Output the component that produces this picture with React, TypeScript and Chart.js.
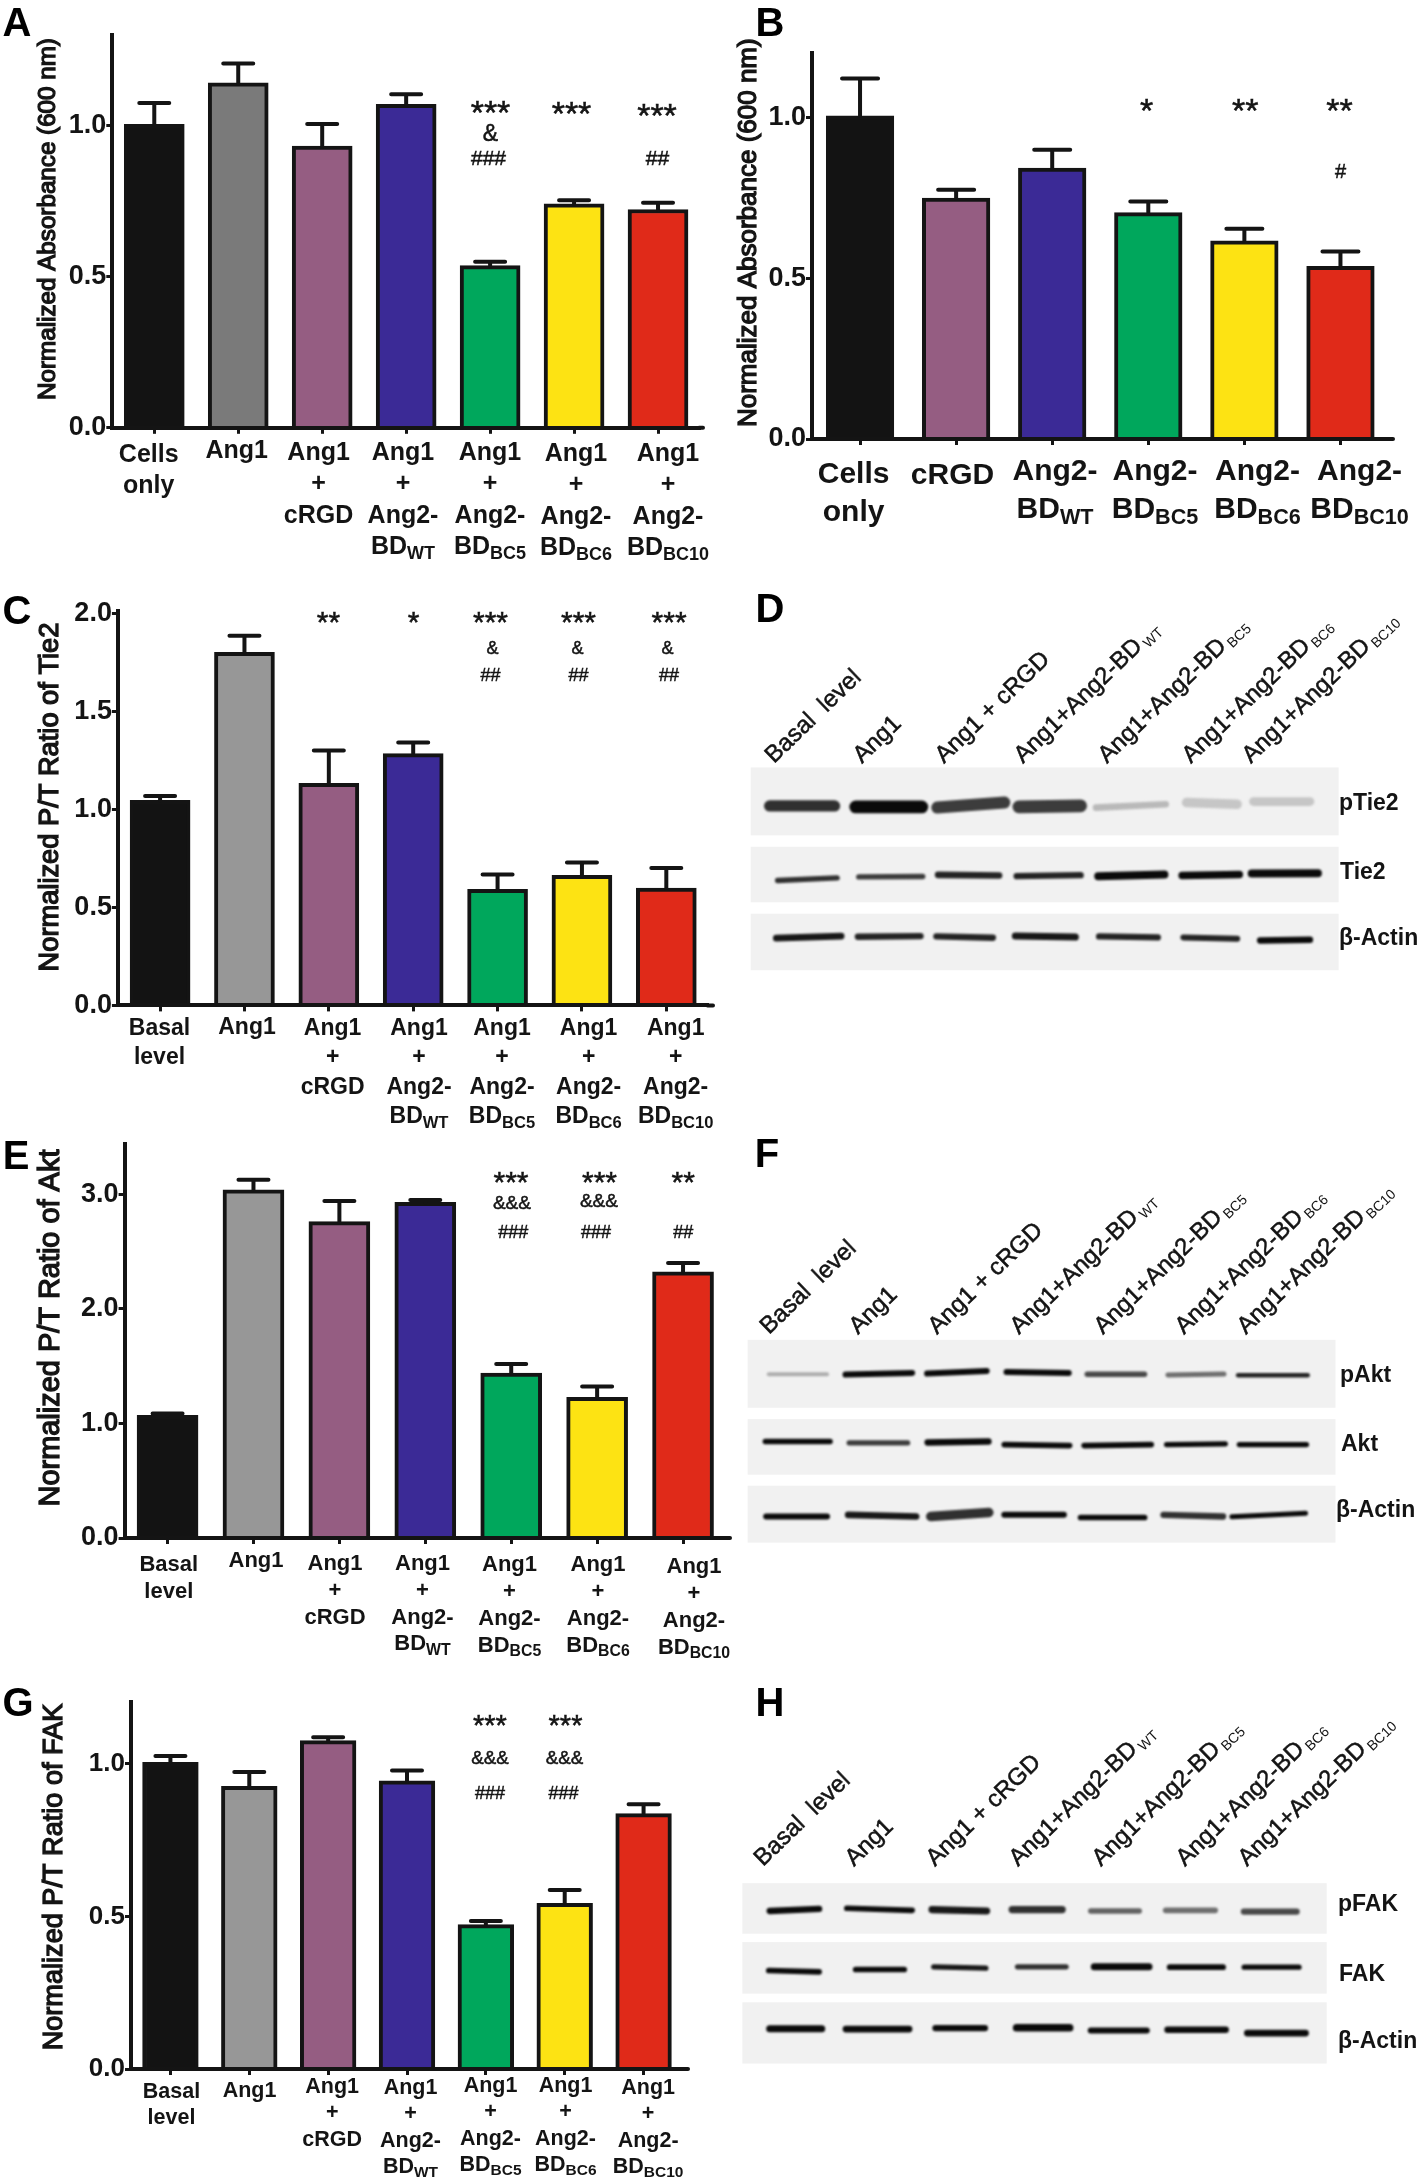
import React, { useEffect, useRef } from "react";
import { Chart, registerables } from "chart.js";

Chart.register(...registerables);

const FONT = '"Liberation Sans", Arial, sans-serif';
const INK = "#141414";

// ---------- bar panel data ----------
const basalCats = [["Basal", "level"], ["Ang1"], ["Ang1", "+", "cRGD"], ["Ang1", "+", "Ang2-", "BD_WT"], ["Ang1", "+", "Ang2-", "BD_BC5"], ["Ang1", "+", "Ang2-", "BD_BC6"], ["Ang1", "+", "Ang2-", "BD_BC10"]];
const categoriesA = [["Cells", "only"], ["Ang1"], ["Ang1", "+", "cRGD"], ["Ang1", "+", "Ang2-", "BD_WT"], ["Ang1", "+", "Ang2-", "BD_BC5"], ["Ang1", "+", "Ang2-", "BD_BC6"], ["Ang1", "+", "Ang2-", "BD_BC10"]];
const categoriesB = [["Cells", "only"], ["cRGD"], ["Ang2-", "BD_WT"], ["Ang2-", "BD_BC5"], ["Ang2-", "BD_BC6"], ["Ang2-", "BD_BC10"]];

const valuesA = [1.005, 1.143, 0.933, 1.071, 0.537, 0.742, 0.723];
const errorTopsA = [1.076, 1.207, 1.006, 1.105, 0.55, 0.754, 0.745];
const valuesB = [1.005, 0.749, 0.842, 0.704, 0.616, 0.537];
const errorTopsB = [1.121, 0.775, 0.899, 0.738, 0.654, 0.583];
const valuesC = [1.045, 1.8, 1.132, 1.284, 0.592, 0.663, 0.598];
const errorTopsC = [1.068, 1.885, 1.3, 1.34, 0.668, 0.729, 0.7];
const valuesE = [1.07, 3.04, 2.762, 2.93, 1.44, 1.228, 2.324];
const errorTopsE = [1.087, 3.127, 2.943, 2.95, 1.52, 1.323, 2.4];
const valuesG = [1.005, 0.926, 1.076, 0.944, 0.473, 0.543, 0.837];
const errorTopsG = [1.026, 0.973, 1.087, 0.978, 0.485, 0.587, 0.868];

const coloursA = ["#131313", "#7a7a7a", "#955d82", "#3b2a96", "#00a75c", "#fde313", "#e02a19"];
const coloursB = ["#131313", "#955d82", "#3b2a96", "#00a75c", "#fde313", "#e02a19"];
const coloursRest = ["#131313", "#979797", "#955d82", "#3b2a96", "#00a75c", "#fde313", "#e02a19"];

const marksA = ["***", "&", "###", "***", "***", "##"];
const marksB = ["*", "**", "**", "#"];
const marksC = ["**", "*", "***", "***", "***", "&", "&", "&", "##", "##", "##"];
const marksE = ["***", "***", "**", "&&&", "&&&", "###", "###", "##"];
const marksG = ["***", "***", "&&&", "&&&", "###", "###"];

const barPanels = [
  {
    letter: "A", letterAt: [17, 22], box: [0, 0, 730, 570], plot: [112.3, 34.7, 700, 427.8], axisEnd: 703, yMax: 1.302, step: 0.5,
    categories: categoriesA, values: valuesA, errorTops: errorTopsA, colours: coloursA,
    title: "Normalized Absorbance (600 nm)", titleAt: [48, 219], titleLen: 362,
    barW: 60, capW: 30, tickFont: 27, labelFont: 25, lineStep: 31.5, labelShift: [-2, -2.5],
    labelX: [150.7, 238.7, 320.6, 405, 492, 578, 670], labelY: [455, 451, 453, 453, 453, 454, 454],
    marks: marksA, markAt: [[492, 108], [492, 134], [490, 159], [573, 109], [658.5, 111], [659, 159]],
    markFont: { star: 34, amp: 23, hash: 21 },
  },
  {
    letter: "B", letterAt: [770, 22], box: [710, 0, 708, 570], plot: [812, 53, 1388.5, 439], axisEnd: 1393, yMax: 1.2, step: 0.5,
    categories: categoriesB, values: valuesB, errorTops: errorTopsB, colours: coloursB,
    title: "Normalized Absorbance (600 nm)", titleAt: [748.6, 232.7], titleLen: 389,
    barW: 67.6, capW: 36, tickFont: 27, labelFont: 30, lineStep: 37.6, labelShift: [-3, -3.5],
    labelX: [856.6, 955.5, 1058, 1158, 1260.5, 1362.6], labelY: [476, 477, 472.7, 472.7, 472.7, 472.7],
    marks: marksB, markAt: [[1148, 106], [1246.8, 106], [1341, 106], [1342, 172]],
    markFont: { star: 34, amp: 20, hash: 20 },
  },
  {
    letter: "C", letterAt: [17, 610], box: [0, 570, 730, 560], plot: [117.9, 611, 708.5, 1005.4], axisEnd: 713, yMax: 2.011, step: 0.5,
    categories: basalCats, values: valuesC, errorTops: errorTopsC, colours: coloursRest,
    title: "Normalized P/T Ratio of Tie2", titleAt: [50, 797], titleLen: 349,
    barW: 60, capW: 30, tickFont: 27, labelFont: 23, lineStep: 29.5, labelShift: [-2, -2.5],
    labelX: [161.5, 249, 334.6, 421, 504, 590.6, 677.7], labelY: [1029, 1028, 1029, 1029, 1029, 1029, 1029],
    marks: marksC,
    markAt: [[330, 619], [415, 619], [492, 619], [580, 619], [670.6, 619], [494, 649], [579, 649], [669, 649], [492, 676], [580, 676], [670.6, 676]],
    markFont: { star: 30, amp: 18, hash: 18 },
  },
  {
    letter: "E", letterAt: [16, 1155], box: [0, 1120, 740, 540], plot: [124.6, 1143.5, 726, 1538], axisEnd: 730, yMax: 3.444, step: 1,
    categories: basalCats, values: valuesE, errorTops: errorTopsE, colours: coloursRest,
    title: "Normalized P/T Ratio of Akt", titleAt: [51.5, 1328], titleLen: 357,
    barW: 61, capW: 30, tickFont: 27, labelFont: 22, lineStep: 26.8, labelShift: [-2, -2.5],
    labelX: [170.8, 258, 337, 424.5, 511.5, 600, 696], labelY: [1565.6, 1562, 1564.6, 1564.6, 1566, 1566, 1568],
    marks: marksE,
    markAt: [[512.5, 1179], [601, 1179], [684.7, 1179], [513.4, 1204], [600.4, 1202], [514.8, 1233], [597.6, 1233], [684.7, 1233]],
    markFont: { star: 30, amp: 19, hash: 18 },
  },
  {
    letter: "G", letterAt: [18, 1702], box: [0, 1660, 730, 519], plot: [131, 1701.6, 683, 2069], axisEnd: 688, yMax: 1.204, step: 0.5,
    categories: basalCats, values: valuesG, errorTops: errorTopsG, colours: coloursRest,
    title: "Normalized P/T Ratio of FAK", titleAt: [54.8, 1877], titleLen: 347,
    barW: 55.7, capW: 30, tickFont: 26, labelFont: 21.5, lineStep: 26.4, labelShift: [-1.5, 0],
    labelX: [173, 251, 333.7, 412, 492, 567, 649.6], labelY: [2090, 2089, 2085, 2086, 2084, 2084, 2086],
    marks: marksG,
    markAt: [[491.4, 1722], [567, 1722], [491.4, 1758.5], [566, 1758.5], [491.4, 1794], [565, 1794]],
    markFont: { star: 29, amp: 18.7, hash: 18 },
  },
];

// ---------- blot data: [start, end, startRow, endRow, thickness, density], in blot units ----------
const pTie2Bands = [[90, 237, 645, 645, 28, 0.85], [285, 435, 648, 648, 32, 1], [470, 622, 650, 635, 30, 0.8], [655, 795, 648, 645, 32, 0.8], [830, 988, 650, 640, 14, 0.3], [1035, 1150, 635, 640, 22, 0.25], [1187, 1315, 632, 632, 20, 0.25]];
const tie2Bands = [[108, 243, 868, 860, 10, 0.85], [292, 437, 857, 856, 10, 0.8], [472, 610, 851, 853, 14, 0.9], [650, 795, 855, 852, 13, 0.9], [835, 985, 855, 850, 18, 1], [1025, 1155, 853, 850, 16, 1], [1183, 1333, 847, 846, 18, 1]];
const actinDBands = [[105, 252, 1040, 1034, 14, 0.95], [290, 432, 1036, 1034, 13, 0.9], [468, 596, 1035, 1039, 13, 0.9], [647, 783, 1034, 1037, 15, 0.95], [837, 970, 1035, 1038, 13, 0.9], [1028, 1150, 1038, 1042, 12, 0.9], [1202, 1315, 1047, 1045, 13, 1]];
const pAktBands = [[88, 220, 730, 730, 6, 0.35], [262, 413, 731, 726, 12, 1], [447, 582, 728, 720, 12, 1], [627, 768, 723, 726, 12, 1], [810, 940, 730, 730, 10, 0.75], [993, 1120, 732, 729, 9, 0.6], [1152, 1310, 733, 733, 7, 0.9]];
const aktBands = [[80, 227, 931, 931, 10, 1], [270, 403, 935, 935, 9, 0.8], [448, 586, 934, 931, 13, 1], [622, 770, 940, 943, 11, 1], [803, 955, 943, 940, 11, 1], [990, 1123, 940, 938, 10, 1], [1155, 1307, 940, 940, 10, 1]];
const actinFBands = [[82, 220, 1155, 1155, 12, 1], [268, 422, 1150, 1155, 14, 0.95], [455, 587, 1155, 1143, 22, 0.85], [622, 757, 1150, 1150, 12, 1], [795, 940, 1158, 1158, 11, 1], [983, 1118, 1150, 1155, 13, 0.85], [1138, 1305, 1156, 1145, 9, 1]];
const pFakBands = [[90, 202, 720, 714, 13, 1], [265, 413, 712, 718, 11, 1], [458, 582, 716, 720, 15, 0.95], [640, 753, 716, 716, 16, 0.85], [818, 928, 720, 720, 10, 0.65], [988, 1100, 718, 718, 11, 0.6], [1165, 1285, 722, 722, 12, 0.75]];
const fakBands = [[88, 202, 898, 902, 11, 1], [285, 395, 895, 895, 11, 1], [462, 580, 887, 891, 10, 0.95], [652, 762, 887, 887, 10, 0.85], [826, 950, 887, 887, 15, 1], [997, 1118, 888, 888, 11, 1], [1166, 1290, 888, 888, 10, 1]];
const actinHBands = [[90, 208, 1072, 1072, 15, 1], [263, 406, 1073, 1073, 14, 1], [466, 578, 1070, 1070, 13, 1], [650, 770, 1069, 1069, 17, 1], [818, 945, 1077, 1077, 12, 1], [992, 1124, 1075, 1075, 13, 1], [1173, 1305, 1085, 1085, 14, 1]];

const laneLabels = ["Basal  level", "Ang1", "Ang1 + cRGD", "Ang1+Ang2-BD_WT", "Ang1+Ang2-BD_BC5", "Ang1+Ang2-BD_BC6", "Ang1+Ang2-BD_BC10"];

const blotPanels = [
  {
    letter: "D", letterAt: [770, 608], box: [730, 590, 688, 400], domain: [1560, 1195],
    stripX: [47, 1380], strips: [[530, 733], [767, 933], [967, 1136]],
    rows: [pTie2Bands, tie2Bands, actinDBands],
    rowNames: ["pTie2", "Tie2", "β-Actin"], rowNameAt: [[1339, 804], [1340, 873], [1339, 939]],
    laneX: [774, 862, 944, 1023, 1107, 1191, 1251], laneY: 764,
  },
  {
    letter: "F", letterAt: [767, 1153], box: [730, 1130, 688, 430], domain: [1560, 1285],
    stripX: [40, 1373], strips: [[627, 830], [864, 1030], [1063, 1233]],
    rows: [pAktBands, aktBands, actinFBands],
    rowNames: ["pAkt", "Akt", "β-Actin"], rowNameAt: [[1340, 1376], [1341, 1445], [1336, 1511]],
    laneX: [769, 858, 937, 1019, 1103, 1184, 1246], laneY: 1335,
  },
  {
    letter: "H", letterAt: [770, 1702], box: [730, 1670, 688, 420], domain: [1560, 1255],
    stripX: [28, 1353], strips: [[637, 788], [813, 967], [993, 1176]],
    rows: [pFakBands, fakBands, actinHBands],
    rowNames: ["pFAK", "FAK", "β-Actin"], rowNameAt: [[1338, 1905], [1339, 1975], [1338, 2042]],
    laneX: [763, 854, 935, 1018, 1101, 1185, 1247], laneY: 1867,
  },
];

// ---------- text helpers ----------
function drawSubLine(ctx: any, line: string, x: number, y: number, size: number) {
  const [main, sub] = line.split("_");
  ctx.font = `bold ${size}px ${FONT}`;
  const mw = ctx.measureText(main).width;
  let sw = 0;
  const subSize = size * 0.72;
  if (sub) {
    ctx.font = `bold ${subSize}px ${FONT}`;
    sw = ctx.measureText(sub).width;
  }
  const left = x - (mw + sw) / 2;
  ctx.textAlign = "left";
  ctx.textBaseline = "alphabetic";
  ctx.font = `bold ${size}px ${FONT}`;
  ctx.fillText(main, left, y);
  if (sub) {
    ctx.font = `bold ${subSize}px ${FONT}`;
    ctx.fillText(sub, left + mw, y + size * 0.2);
  }
}

function centredText(ctx: any, text: string, x: number, y: number, stroke = 0) {
  ctx.textAlign = "center";
  ctx.textBaseline = "alphabetic";
  const m = ctx.measureText(text);
  const by = y + (m.actualBoundingBoxAscent - m.actualBoundingBoxDescent) / 2;
  ctx.fillText(text, x, by);
  if (stroke) {
    ctx.lineWidth = stroke;
    ctx.strokeStyle = ctx.fillStyle;
    ctx.strokeText(text, x, by);
  }
}

function drawLetter(ctx: any, letter: string, at: number[]) {
  ctx.fillStyle = "#000";
  ctx.font = `bold 40px ${FONT}`;
  centredText(ctx, letter, at[0], at[1]);
}

// ---------- components ----------
function BarPanel({ p }: { p: any }) {
  const ref = useRef<HTMLCanvasElement>(null);
  useEffect(() => {
    const [bx, by, bw, bh] = p.box;
    const [left, top, right, bottom] = p.plot;
    const overlay = {
      id: "overlay",
      afterDatasetsDraw(chart: any) {
        const { ctx, chartArea } = chart;
        const meta = chart.getDatasetMeta(0);
        const y = chart.scales.y;
        ctx.save();
        ctx.strokeStyle = INK;
        ctx.lineWidth = 4;
        ctx.lineCap = "round";
        p.errorTops.forEach((t: number, i: number) => {
          const cx = meta.data[i].x;
          const y0 = y.getPixelForValue(p.values[i]);
          const y1 = y.getPixelForValue(t);
          ctx.beginPath();
          ctx.moveTo(cx, y0);
          ctx.lineTo(cx, y1);
          ctx.moveTo(cx - p.capW / 2, y1);
          ctx.lineTo(cx + p.capW / 2, y1);
          ctx.stroke();
        });
        // the x axis runs a little past the last category
        ctx.beginPath();
        ctx.moveTo(chartArea.right - 1, chartArea.bottom);
        ctx.lineTo(p.axisEnd - bx, chartArea.bottom);
        ctx.stroke();
        ctx.restore();
      },
      afterDraw(chart: any) {
        const { ctx } = chart;
        ctx.save();
        ctx.translate(-bx, -by);
        ctx.fillStyle = INK;
        // category labels
        chart.data.labels.forEach((lines: string[], i: number) => {
          lines.forEach((line, k) => {
            const yc = p.labelY[i] + p.labelShift[1] + k * p.lineStep;
            drawSubLine(ctx, line, p.labelX[i] + p.labelShift[0], yc + p.labelFont * 0.36, p.labelFont);
          });
        });
        // significance marks
        p.marks.forEach((m: string, i: number) => {
          const size = m[0] === "*" ? p.markFont.star : m[0] === "&" ? p.markFont.amp : p.markFont.hash;
          ctx.font = `${size}px ${FONT}`;
          centredText(ctx, m, p.markAt[i][0] - 1.5, p.markAt[i][1] - 1.5, 0.5);
        });
        // axis title, sized to the measured length
        ctx.save();
        ctx.font = `100px ${FONT}`;
        const size = (100 * p.titleLen) / ctx.measureText(p.title).width;
        ctx.font = `${size}px ${FONT}`;
        ctx.translate(p.titleAt[0], p.titleAt[1]);
        ctx.rotate(-Math.PI / 2);
        ctx.textAlign = "center";
        ctx.textBaseline = "middle";
        ctx.lineWidth = 1.3;
        ctx.strokeStyle = INK;
        ctx.fillText(p.title, 0, 0);
        ctx.strokeText(p.title, 0, 0);
        ctx.restore();
        drawLetter(ctx, p.letter, p.letterAt);
        ctx.restore();
      },
    };
    const chart = new Chart(ref.current!, {
      type: "bar",
      data: {
        labels: p.categories,
        datasets: [
          {
            data: p.values,
            backgroundColor: p.colours,
            borderColor: INK,
            borderWidth: 4,
            barThickness: p.barW,
          },
        ],
      },
      options: {
        animation: false,
        responsive: false,
        devicePixelRatio: 1,
        layout: { padding: { left: 0, top: top - by, right: bx + bw - right, bottom: 0 } },
        plugins: { legend: { display: false }, tooltip: { enabled: false }, title: { display: false } },
        scales: {
          x: {
            type: "category",
            offset: true,
            grid: { display: true, offset: false, drawOnChartArea: false, drawTicks: true, tickLength: 6, tickWidth: 3, color: INK },
            border: { display: true, width: 4, color: INK, z: 1 },
            ticks: { display: false },
            afterFit(s: any) {
              s.height = by + bh - bottom;
            },
          },
          y: {
            type: "linear",
            min: 0,
            max: p.yMax,
            grid: { display: true, drawOnChartArea: false, drawTicks: true, tickLength: 6, tickWidth: 3, color: INK },
            border: { display: true, width: 4, color: INK, z: 1 },
            ticks: {
              stepSize: p.step,
              includeBounds: false,
              padding: 0,
              color: INK,
              font: { family: FONT, size: p.tickFont, weight: "bold" },
              callback: (v: any) => Number(v).toFixed(1),
            },
            afterFit(s: any) {
              s.width = left - bx;
            },
          },
        },
      },
      plugins: [overlay],
    } as any);
    return () => chart.destroy();
  }, [p]);
  const [bx, by, bw, bh] = p.box;
  return <canvas ref={ref} width={bw} height={bh} style={{ position: "absolute", left: bx, top: by, width: bw, height: bh }} />;
}

function BlotPanel({ p }: { p: any }) {
  const ref = useRef<HTMLCanvasElement>(null);
  useEffect(() => {
    const [bx, by, bw, bh] = p.box;
    const [dx, dy] = p.domain;
    const pxPerUnit = bh / dy;
    const decor = {
      id: "decor",
      beforeDatasetsDraw(chart: any) {
        const { ctx, scales } = chart;
        ctx.save();
        ctx.fillStyle = "#f1f1f1";
        p.strips.forEach((s: number[]) => {
          const x0 = scales.x.getPixelForValue(p.stripX[0]);
          const x1 = scales.x.getPixelForValue(p.stripX[1]);
          const y0 = scales.y.getPixelForValue(s[0]);
          const y1 = scales.y.getPixelForValue(s[1]);
          ctx.fillRect(x0, y0, x1 - x0, y1 - y0);
        });
        ctx.restore();
        ctx.filter = "blur(1px)";
      },
      afterDatasetsDraw(chart: any) {
        chart.ctx.filter = "none";
      },
      afterDraw(chart: any) {
        const { ctx } = chart;
        ctx.save();
        ctx.translate(-bx, -by);
        ctx.fillStyle = INK;
        laneLabels.forEach((lab, i) => {
          const [main, sub] = lab.split("_");
          ctx.save();
          ctx.translate(p.laneX[i], p.laneY);
          ctx.rotate((-44 * Math.PI) / 180);
          ctx.textAlign = "left";
          ctx.textBaseline = "alphabetic";
          ctx.font = `24px ${FONT}`;
          ctx.lineWidth = 0.5;
          ctx.strokeStyle = INK;
          ctx.fillText(main, 0, 0);
          ctx.strokeText(main, 0, 0);
          if (sub) {
            const w = ctx.measureText(main).width;
            ctx.font = `14px ${FONT}`;
            ctx.fillText(sub, w + 3, 4);
          }
          ctx.restore();
        });
        p.rowNames.forEach((name: string, i: number) => {
          ctx.font = `bold 23px ${FONT}`;
          ctx.textAlign = "left";
          ctx.textBaseline = "middle";
          ctx.fillText(name, p.rowNameAt[i][0], p.rowNameAt[i][1]);
        });
        drawLetter(ctx, p.letter, p.letterAt);
        ctx.restore();
      },
    };
    const datasets: any[] = [];
    p.rows.forEach((bands: number[][]) => {
      bands.forEach(([x0, x1, y0, y1, t, density]) => {
        const g = Math.round(250 * (1 - density)) + 10;
        datasets.push({
          data: [{ x: x0, y: y0 }, { x: x1, y: y1 }],
          showLine: true,
          borderColor: `rgb(${g},${g},${g})`,
          borderWidth: t * pxPerUnit + 2,
          borderCapStyle: "round",
          pointRadius: 0,
          tension: 0,
        });
      });
    });
    const chart = new Chart(ref.current!, {
      type: "scatter",
      data: { datasets },
      options: {
        animation: false,
        responsive: false,
        devicePixelRatio: 1,
        layout: { padding: 0 },
        plugins: { legend: { display: false }, tooltip: { enabled: false } },
        scales: {
          x: { type: "linear", display: false, min: 0, max: dx },
          y: { type: "linear", display: false, min: 0, max: dy, reverse: true },
        },
      },
      plugins: [decor],
    } as any);
    return () => chart.destroy();
  }, [p]);
  const [bx, by, bw, bh] = p.box;
  return <canvas ref={ref} width={bw} height={bh} style={{ position: "absolute", left: bx, top: by, width: bw, height: bh }} />;
}

export default function App() {
  return (
    <div style={{ position: "absolute", left: 0, top: 0, width: 1418, height: 2179, background: "#fff", overflow: "hidden" }}>
      {blotPanels.map((p) => (
        <BlotPanel key={p.letter} p={p} />
      ))}
      {barPanels.map((p) => (
        <BarPanel key={p.letter} p={p} />
      ))}
    </div>
  );
}
